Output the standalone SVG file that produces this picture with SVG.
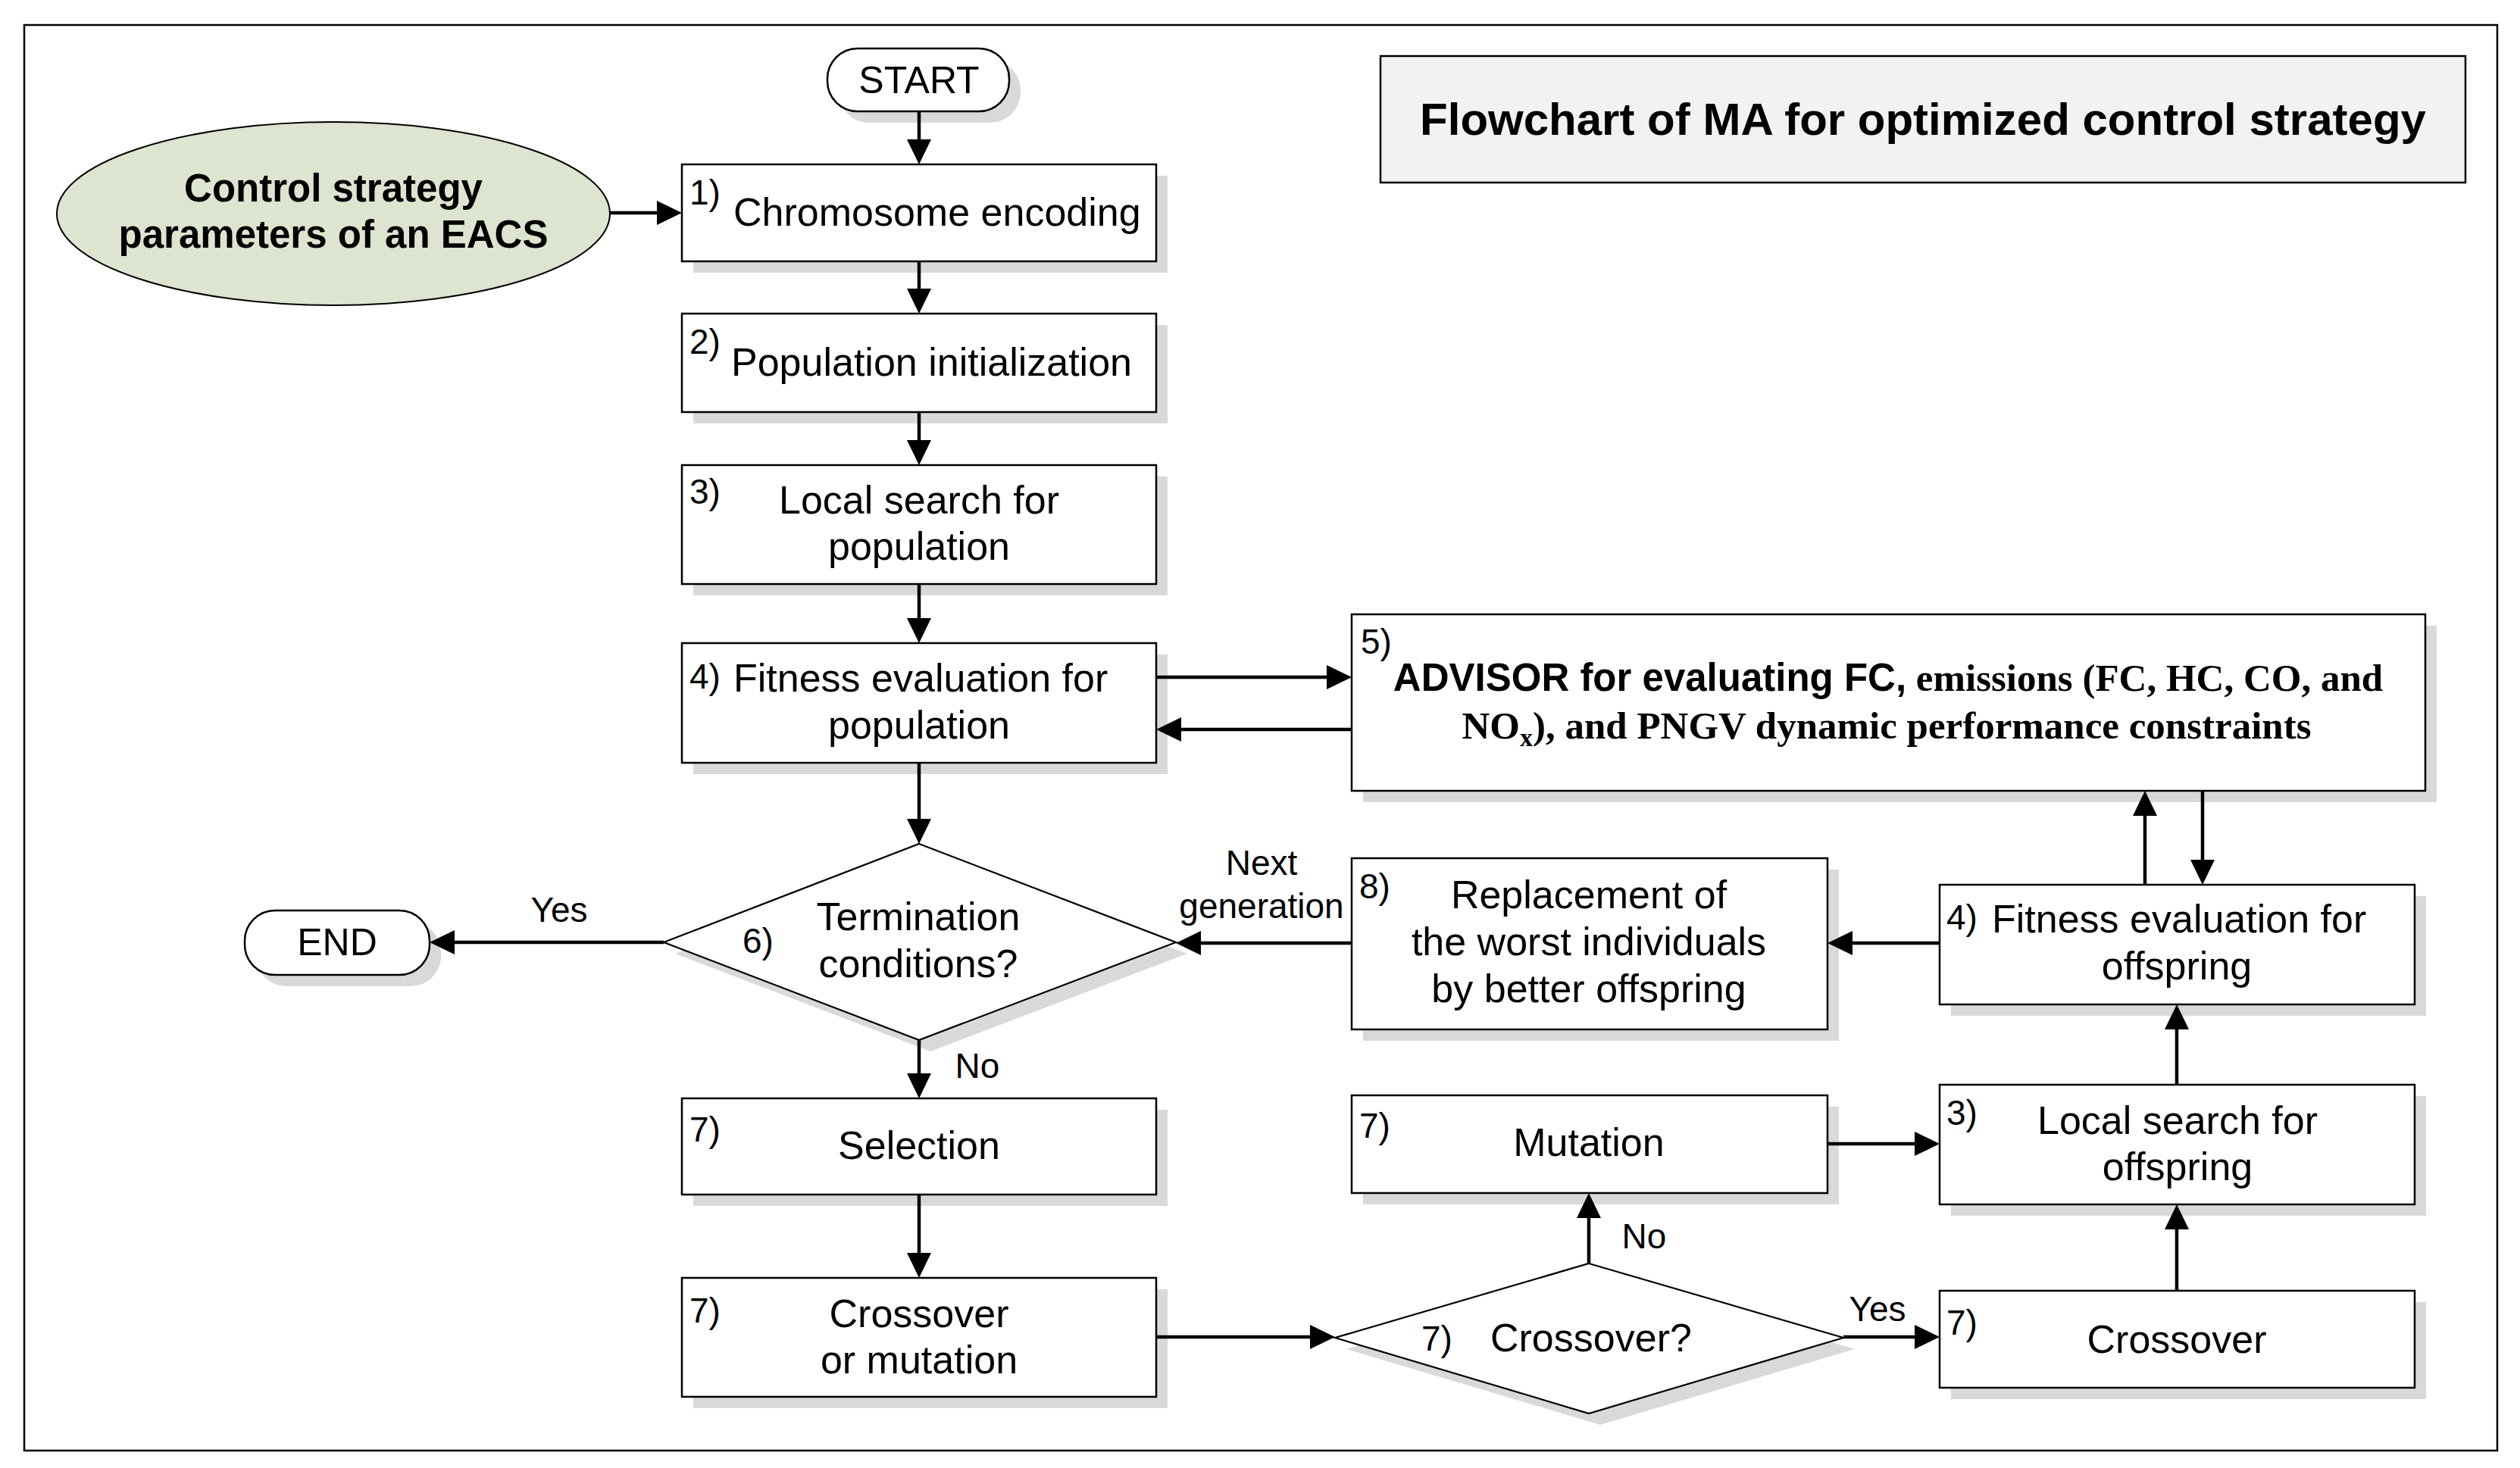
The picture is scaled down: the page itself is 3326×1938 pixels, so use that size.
<svg xmlns="http://www.w3.org/2000/svg" width="3326" height="1938" viewBox="0 0 3326 1938">
<defs>
<marker id="ah" markerUnits="userSpaceOnUse" markerWidth="34" markerHeight="34" viewBox="0 0 34 34" refX="12" refY="17" orient="auto">
<path d="M0,1 L33,17 L0,33 z" fill="#000"/>
</marker>
<style>
.box{fill:#fff;stroke:#000;stroke-width:2.5}
.sh{fill:#d9d9d9;stroke:none}
.t{font-family:"Liberation Sans",Arial,sans-serif;font-size:52px;fill:#000}
.tb{font-family:"Liberation Sans",Arial,sans-serif;font-size:51px;font-weight:bold;fill:#000}
.ts{font-family:"Liberation Serif","Times New Roman",serif;font-size:51px;font-weight:bold;fill:#000}
.lb{font-family:"Liberation Sans",Arial,sans-serif;font-size:46px;fill:#000}
.m{text-anchor:middle}
.c{fill:none;stroke:#000;stroke-width:4.5;marker-end:url(#ah)}
</style>
</defs>
<rect x="0" y="0" width="3326" height="1938" fill="#fff"/>
<rect x="32" y="33" width="3264" height="1882" fill="none" stroke="#000" stroke-width="2.5"/>

<g id="title">
<rect x="1822" y="74" width="1432" height="167" fill="#f2f2f2" stroke="#000" stroke-width="2.5"/>
<text x="2538" y="178" class="tb m" style="font-size:60px">Flowchart of MA for optimized control strategy</text>
</g>

<g id="start">
<rect class="sh" x="1107" y="79" width="240" height="83" rx="40"/>
<rect class="box" x="1092" y="64" width="240" height="83" rx="40"/>
<text x="1213" y="123" class="t m" style="font-size:50px">START</text>
</g>

<g id="params">
<ellipse cx="440" cy="282" rx="365" ry="121" fill="#dde4cf" stroke="#000" stroke-width="2"/>
<text x="440" y="266" class="tb m">Control strategy</text>
<text x="440" y="327" class="tb m">parameters of an EACS</text>
</g>

<g id="n1">
<rect class="sh" x="915" y="232" width="626" height="128"/>
<rect class="box" x="900" y="217" width="626" height="128"/>
<text x="910" y="270" class="lb">1)</text>
<text x="968" y="298" class="t">Chromosome encoding</text>
</g>

<g id="n2">
<rect class="sh" x="915" y="429" width="626" height="130"/>
<rect class="box" x="900" y="414" width="626" height="130"/>
<text x="910" y="467" class="lb">2)</text>
<text x="965" y="496" class="t">Population initialization</text>
</g>

<g id="n3">
<rect class="sh" x="915" y="629" width="626" height="157"/>
<rect class="box" x="900" y="614" width="626" height="157"/>
<text x="910" y="665" class="lb">3)</text>
<text x="1213" y="678" class="t m">Local search for</text>
<text x="1213" y="739" class="t m">population</text>
</g>

<g id="n4">
<rect class="sh" x="915" y="864" width="626" height="158"/>
<rect class="box" x="900" y="849" width="626" height="158"/>
<text x="910" y="909" class="lb">4)</text>
<text x="968" y="913" class="t">Fitness evaluation for</text>
<text x="1213" y="975" class="t m">population</text>
</g>

<g id="n5">
<rect class="sh" x="1799" y="826" width="1417" height="233"/>
<rect class="box" x="1784" y="811" width="1417" height="233"/>
<text x="1796" y="863" class="lb">5)</text>
<text x="2492" y="912" class="m"><tspan class="tb">ADVISOR for evaluating FC,</tspan><tspan class="ts"> emissions (FC, HC, CO, and</tspan></text>
<text x="2490" y="975" class="ts m">NO<tspan dy="10" style="font-size:34px">x</tspan><tspan dy="-10">), and PNGV dynamic performance constraints</tspan></text>
</g>

<g id="n6">
<polygon class="sh" points="1228,1129 1567,1259 1228,1388 891,1259"/>
<polygon points="1213,1114 1552,1244 1213,1373 876,1244" fill="#fff" stroke="#000" stroke-width="2.2"/>
<text x="980" y="1258" class="lb">6)</text>
<text x="1212" y="1228" class="t m">Termination</text>
<text x="1212" y="1290" class="t m">conditions?</text>
</g>

<g id="end">
<rect class="sh" x="338" y="1217" width="244" height="85" rx="40"/>
<rect class="box" x="323" y="1202" width="244" height="85" rx="40"/>
<text x="445" y="1261" class="t m" style="font-size:50px">END</text>
</g>

<g id="n7sel">
<rect class="sh" x="915" y="1465" width="626" height="127"/>
<rect class="box" x="900" y="1450" width="626" height="127"/>
<text x="910" y="1507" class="lb">7)</text>
<text x="1213" y="1530" class="t m">Selection</text>
</g>

<g id="n7com">
<rect class="sh" x="915" y="1702" width="626" height="157"/>
<rect class="box" x="900" y="1687" width="626" height="157"/>
<text x="910" y="1746" class="lb">7)</text>
<text x="1213" y="1752" class="t m">Crossover</text>
<text x="1213" y="1813" class="t m">or mutation</text>
</g>

<g id="n8">
<rect class="sh" x="1799" y="1148" width="628" height="226"/>
<rect class="box" x="1784" y="1133" width="628" height="226"/>
<text x="1794" y="1186" class="lb">8)</text>
<text x="2097" y="1199" class="t m">Replacement of</text>
<text x="2097" y="1261" class="t m">the worst individuals</text>
<text x="2097" y="1323" class="t m">by better offspring</text>
</g>

<g id="n4o">
<rect class="sh" x="2575" y="1183" width="627" height="158"/>
<rect class="box" x="2560" y="1168" width="627" height="158"/>
<text x="2569" y="1227" class="lb">4)</text>
<text x="2629" y="1231" class="t">Fitness evaluation for</text>
<text x="2873" y="1293" class="t m">offspring</text>
</g>

<g id="n7mut">
<rect class="sh" x="1799" y="1461" width="628" height="129"/>
<rect class="box" x="1784" y="1446" width="628" height="129"/>
<text x="1794" y="1502" class="lb">7)</text>
<text x="2097" y="1526" class="t m">Mutation</text>
</g>

<g id="n3o">
<rect class="sh" x="2575" y="1447" width="627" height="158"/>
<rect class="box" x="2560" y="1432" width="627" height="158"/>
<text x="2569" y="1485" class="lb">3)</text>
<text x="2874" y="1497" class="t m">Local search for</text>
<text x="2874" y="1558" class="t m">offspring</text>
</g>

<g id="n7x">
<polygon class="sh" points="2112,1683 2448,1781 2112,1881 1777,1781"/>
<polygon points="2097,1668 2433,1766 2097,1866 1762,1766" fill="#fff" stroke="#000" stroke-width="2.2"/>
<text x="1876" y="1783" class="lb">7)</text>
<text x="1967" y="1784" class="t">Crossover?</text>
</g>

<g id="n7cross">
<rect class="sh" x="2575" y="1719" width="627" height="128"/>
<rect class="box" x="2560" y="1704" width="627" height="128"/>
<text x="2569" y="1762" class="lb">7)</text>
<text x="2873" y="1786" class="t m">Crossover</text>
</g>

<g id="connectors">
<path class="c" d="M1213,147 V196"/>
<path class="c" d="M805,281 H879"/>
<path class="c" d="M1213,345 V393"/>
<path class="c" d="M1213,544 V593"/>
<path class="c" d="M1213,771 V828"/>
<path class="c" d="M1526,894 H1763"/>
<path class="c" d="M1784,963 H1547"/>
<path class="c" d="M1213,1007 V1093"/>
<path class="c" d="M876,1244 H588"/>
<path class="c" d="M1213,1373 V1429"/>
<path class="c" d="M1213,1577 V1666"/>
<path class="c" d="M1526,1765 H1741"/>
<path class="c" d="M2097,1668 V1596"/>
<path class="c" d="M2433,1765 H2539"/>
<path class="c" d="M2873,1704 V1611"/>
<path class="c" d="M2412,1510 H2539"/>
<path class="c" d="M2873,1432 V1347"/>
<path class="c" d="M2831,1168 V1065"/>
<path class="c" d="M2907,1044 V1147"/>
<path class="c" d="M2560,1245 H2433"/>
<path class="c" d="M1784,1245 H1573"/>
<text x="738" y="1217" class="lb m">Yes</text>
<text x="1290" y="1423" class="lb m">No</text>
<text x="1665" y="1155" class="lb m">Next</text>
<text x="1665" y="1212" class="lb m">generation</text>
<text x="2170" y="1648" class="lb m">No</text>
<text x="2478" y="1744" class="lb m">Yes</text>
</g>
</svg>
